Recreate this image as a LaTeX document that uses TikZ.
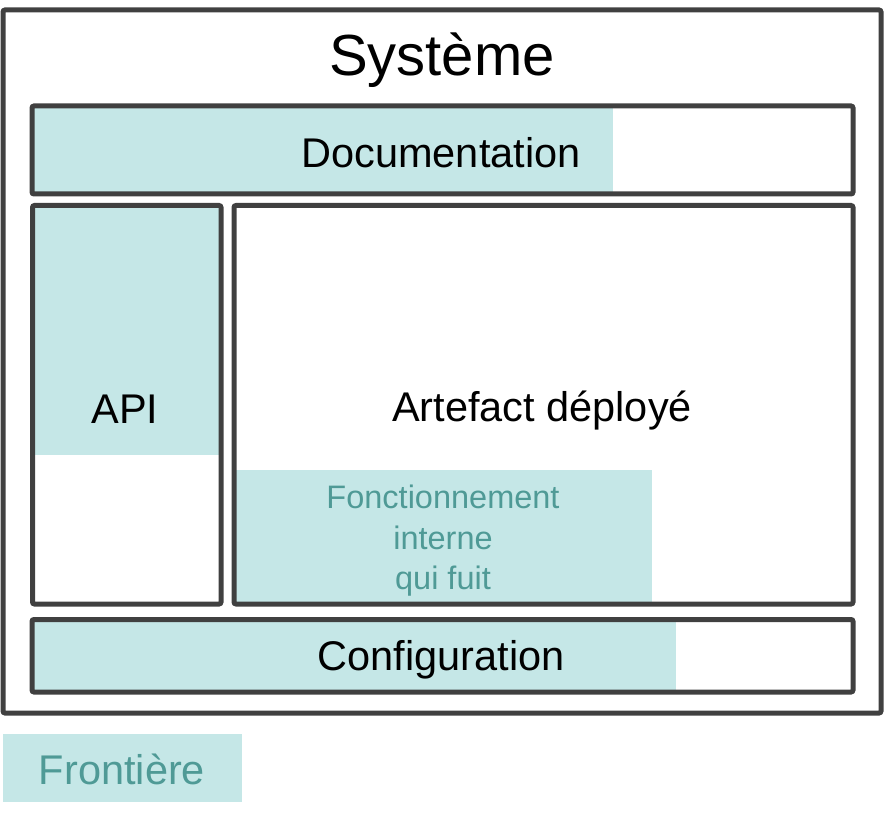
\documentclass[tikz,border=0pt]{standalone}
\usepackage{fontspec}
\setmainfont{Liberation Sans}
\definecolor{frame}{HTML}{404040}
\definecolor{leak}{HTML}{C5E7E7}
\definecolor{leaktext}{HTML}{4F9A96}
\tikzset{
  box/.style={draw=frame, line width=5pt, rounded corners=2pt, inner sep=0pt},
  leakfill/.style={fill=leak, draw=none, inner sep=0pt},
  lbl/.style={inner sep=0pt, font=\fontsize{41.5}{48}\selectfont, text=black},
  leaklbl/.style={inner sep=0pt, text=leaktext, align=center},
}
\begin{document}
\begin{tikzpicture}[x=1pt,y=-1pt]
\useasboundingbox (0,0) rectangle (884,818);
% outer system
\node[box, minimum width=878pt, minimum height=703pt] (sys) at (442,361.5) {};
\node[inner sep=0pt, font=\fontsize{58}{66}\selectfont] (systitle) at (442,60) {Système};
% documentation
\node[leakfill, minimum width=581pt, minimum height=88pt] (docfill) at (322.5,150) {};
\node[box, minimum width=821pt, minimum height=88pt] (doc) at (442.5,150) {};
\node[lbl] (doctxt) at (441,153) {Documentation};
% API
\node[leakfill, minimum width=188.5pt, minimum height=249.5pt] (apifill) at (126.75,330.25) {};
\node[box, minimum width=188.5pt, minimum height=398.5pt] (api) at (126.75,404.75) {};
\node[lbl] (apitxt) at (125,409) {API};
% artefact
\node[leakfill, minimum width=416pt, minimum height=133pt] (intfill) at (444,536.5) {};
\node[box, minimum width=619pt, minimum height=398.5pt] (art) at (543.5,404.75) {};
\node[lbl] (arttxt) at (542,411) {Artefact déployé};
\node[leaklbl, font=\fontsize{32.5}{40.5}\selectfont] (inttxt) at (443,541) {Fonctionnement\\interne\\qui fuit};
% configuration
\node[leakfill, minimum width=644pt, minimum height=72.5pt] (conffill) at (354,655.75) {};
\node[box, minimum width=821pt, minimum height=72.5pt] (conf) at (442.5,655.75) {};
\node[lbl] (conftxt) at (441,660) {Configuration};
% legend
\node[leakfill, minimum width=239pt, minimum height=68pt] (legend) at (122.5,768) {};
\node[leaklbl, font=\fontsize{41.5}{48}\selectfont] (legendtxt) at (122,769) {Frontière};
\end{tikzpicture}
\end{document}
